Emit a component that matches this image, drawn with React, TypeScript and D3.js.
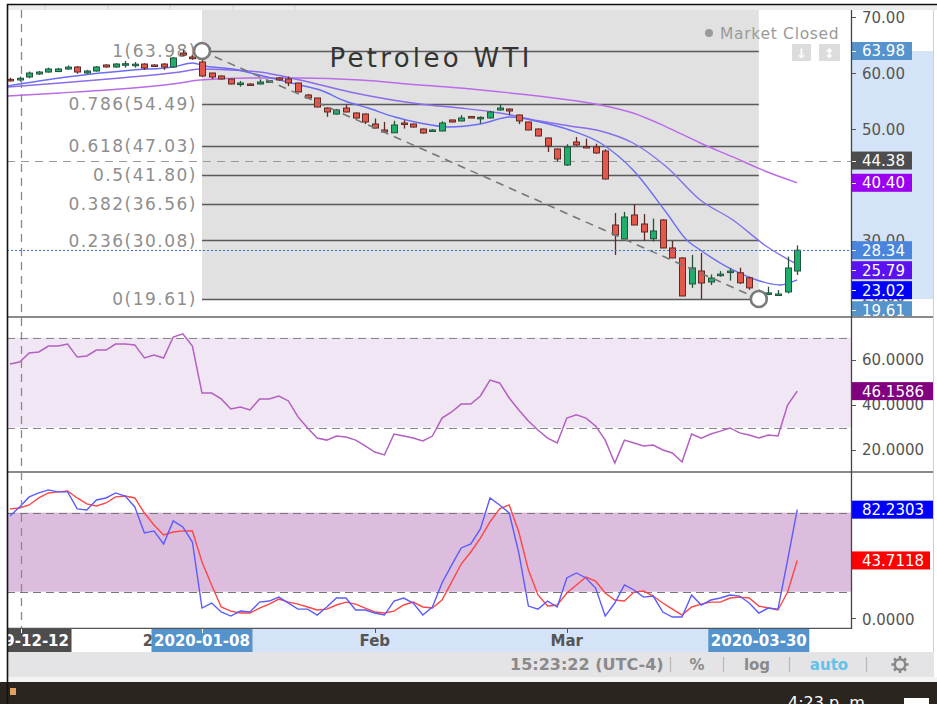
import React from "react";
import * as d3 from "d3";

// ---------------- DATA ----------------
const START_INDEX = -20; // candle index of first bar (0 = 2020-01-08)

const candleOpen = [
  58.9, 58.8, 59.33, 59.87, 60.22, 60.3, 60.76, 61.12, 60.04, 60.4, 61.48, 61.12, 61.6, 61.55, 61.65, 61.48, 61.65, 61.12, 63.62, 62.9,
  62.01, 60.04, 59.51, 58.97, 58.1, 58.08, 58.08, 58.6, 59.15, 58.97, 58.26, 56.11, 55.57, 53.78, 52.7, 53.78, 52.89, 52.71, 50.92, 49.85,
  49.35, 51.1, 50.92, 50.03, 49.67, 49.67, 51.64, 51.46, 52.25, 52.0, 52.0, 53.43, 53.6, 52.53, 51.28, 50.03, 48.42, 46.45, 43.59, 47.7,
  46.9, 46.81, 46.09, 32.85, 30.35, 34.64, 33.03, 30.4, 33.75, 28.74, 26.95, 22.3, 24.62, 22.65, 23.85, 24.4, 24.3, 23.4, 20.9, 20.55,
  20.4, 20.87, 24.62,
];
const candleHigh = [
  59.2, 59.4, 60.3, 60.4, 61.0, 60.95, 61.4, 61.3, 60.6, 61.3, 61.6, 61.8, 62.2, 62.0, 61.8, 61.6, 61.8, 62.9, 64.16, 63.2,
  63.98, 60.1, 59.6, 59.0, 58.6, 58.2, 58.9, 58.8, 59.3, 59.4, 58.3, 56.3, 55.6, 53.9, 53.6, 54.4, 53.0, 52.8, 51.9, 51.3,
  51.5, 51.6, 51.0, 50.1, 50.0, 51.4, 51.7, 52.5, 52.3, 52.3, 53.3, 54.5, 53.7, 52.6, 51.3, 50.1, 48.5, 46.5, 47.3, 48.6,
  48.3, 47.4, 46.4, 35.0, 35.2, 36.6, 34.8, 34.0, 33.9, 30.0, 27.1, 27.5, 27.85, 24.0, 24.6, 25.1, 25.2, 23.6, 21.3, 21.8,
  21.2, 27.2, 29.2,
];
const candleLow = [
  58.5, 58.5, 59.1, 59.7, 60.1, 60.2, 60.6, 59.9, 59.9, 60.3, 61.0, 61.0, 61.0, 61.0, 60.6, 61.2, 60.6, 61.0, 63.1, 62.4,
  59.3, 58.97, 58.9, 58.0, 57.6, 57.85, 58.0, 58.5, 58.7, 57.7, 56.6, 55.4, 53.9, 52.2, 52.6, 53.0, 51.9, 50.9, 50.1, 49.4,
  49.3, 50.1, 50.3, 49.2, 49.5, 49.6, 51.2, 51.4, 52.1, 51.0, 51.9, 53.3, 52.5, 50.9, 49.8, 48.7, 45.9, 44.2, 43.4, 47.0,
  46.6, 45.6, 41.0, 27.5, 30.2, 32.8, 30.0, 29.9, 28.7, 26.9, 20.1, 21.6, 19.6, 22.1, 23.6, 22.9, 22.3, 21.25, 19.61, 20.3,
  20.3, 20.6, 23.9,
];
const candleClose = [
  58.75, 59.1, 60.04, 60.22, 60.76, 60.76, 61.1, 60.22, 60.4, 61.12, 61.12, 61.65, 61.7, 61.62, 60.94, 61.3, 61.12, 62.73, 63.26, 62.6,
  59.51, 59.33, 58.97, 58.08, 58.25, 57.95, 58.43, 58.65, 58.8, 58.26, 56.65, 55.57, 53.96, 53.07, 53.43, 53.07, 51.99, 51.28, 50.2, 49.5,
  50.74, 50.92, 50.38, 49.31, 49.85, 51.1, 51.28, 51.99, 52.15, 52.1, 53.07, 53.78, 53.25, 51.46, 49.85, 48.77, 46.99, 44.66, 46.8, 47.17,
  46.75, 45.73, 41.08, 31.06, 34.28, 32.85, 31.6, 31.78, 28.74, 26.95, 20.15, 25.16, 22.47, 23.36, 24.05, 24.6, 22.5, 21.6, 20.3, 20.7,
  20.5, 25.16, 28.34,
];

// moving averages: points (bar index, price)
const maFastIdx = [-20.3, -14.1, -7.2, -3.0, -1.0, 0.3, 3.2, 6.8, 10.2, 12.3, 14.9, 17.3, 20.1, 22.7, 25.8, 29.0, 32.1, 35.2, 38.3, 41.5, 44.9, 48.4, 50.5, 51.9, 55.3, 58.1, 60.2, 62];
const maFastVal = [57.72, 59.33, 60.58, 61.12, 61.83, 61.3, 60.76, 59.33, 57.9, 57.0, 55.04, 53.78, 52.17, 51.1, 50.38, 50.92, 52.17, 51.28, 49.85, 47.52, 42.69, 35.0, 30.17, 28.38, 24.8, 22.83, 22.12, 23.02];
const maMidIdx = [-20.3, -14.8, -8.5, -2.3, -0.2, 2.9, 6.0, 10.2, 15.4, 22.7, 26.9, 31.0, 35.2, 38.3, 41.5, 44.9, 48.4, 51.9, 55.3, 58.9, 62];
const maMidVal = [57.54, 58.26, 59.15, 60.22, 60.76, 60.58, 60.22, 58.79, 56.65, 54.5, 53.78, 52.89, 51.46, 50.56, 49.67, 47.52, 43.23, 37.33, 33.75, 28.92, 25.79];
const maSlowIdx = [-20.3, -14.8, -8.5, -2.3, -0.2, 5.0, 10.2, 16.5, 22.7, 26.9, 33.1, 38.3, 41.5, 44.9, 48.4, 51.9, 55.3, 58.9, 62];
const maSlowVal = [55.93, 56.47, 57.18, 58.26, 58.79, 59.15, 59.15, 58.79, 57.9, 57.36, 56.29, 55.21, 54.32, 52.89, 50.38, 47.52, 45.02, 42.33, 40.4];

const rsiValues = [
  58.2, 59.1, 63.1, 63.6, 66.2, 66.2, 67.1, 61.3, 61.8, 64.4, 64.4, 67.1, 67.1, 66.7, 60.9, 62.2, 60.9, 70.2, 71.6, 66.2,
  45.3, 45.3, 42.7, 38.2, 39.1, 37.8, 42.7, 42.7, 44.0, 41.8, 34.7, 29.8, 25.3, 24.4, 26.2, 25.8, 24.4, 21.8, 19.1, 17.8,
  27.1, 26.2, 25.3, 24.0, 26.2, 34.2, 36.9, 40.4, 40.4, 44.0, 51.1, 49.8, 43.1, 37.8, 32.9, 28.9, 25.3, 23.1, 34.2, 35.6,
  34.2, 30.7, 24.4, 14.2, 24.4, 23.1, 21.8, 22.2, 20.0, 18.7, 14.7, 27.1, 25.3, 27.1, 28.4, 29.8, 27.6, 26.7, 25.3, 26.7,
  26.2, 40.0, 46.1586,
];
const stochK = [
  77.4, 84.3, 91.9, 94.9, 97.2, 95.7, 95.7, 82.8, 82.0, 89.6, 91.1, 94.9, 92.6, 84.3, 64.5, 66.1, 56.2, 73.7, 69.1, 57.7,
  7.6, 11.4, 4.6, 1.5, 5.3, 4.6, 12.1, 12.9, 15.9, 11.4, 6.8, 6.8, 2.3, 8.4, 15.2, 15.2, 6.1, 6.1, 3.8, 2.3,
  12.9, 15.2, 11.4, 2.3, 8.4, 26.6, 40.2, 53.2, 56.2, 67.6, 91.1, 85.8, 79.7, 49.4, 9.1, 6.8, 12.9, 8.4, 30.4, 34.2,
  30.4, 22.8, 1.5, 11.4, 25.1, 21.3, 15.9, 16.7, 4.6, 0.8, 0.8, 17.5, 9.9, 13.7, 15.2, 17.5, 16.7, 11.4, 3.8, 7.6,
  6.8, 44.0, 82.2303,
];
const stochD = [
  82.8, 83.5, 85.8, 91.1, 94.9, 95.7, 96.4, 91.1, 86.6, 85.0, 87.3, 91.9, 92.6, 91.1, 79.7, 70.6, 63.0, 65.3, 66.1, 66.1,
  42.5, 25.1, 8.4, 5.3, 3.8, 3.8, 7.6, 10.6, 14.4, 12.1, 10.6, 8.4, 6.1, 6.8, 9.9, 12.1, 10.6, 7.6, 4.6, 3.8,
  5.3, 9.9, 12.1, 8.4, 7.6, 13.7, 27.3, 41.0, 50.1, 60.7, 72.9, 82.8, 85.8, 65.3, 36.4, 17.5, 9.1, 9.9, 19.0, 25.1,
  31.1, 28.1, 19.0, 13.7, 12.9, 19.7, 20.5, 16.7, 11.4, 6.8, 2.3, 8.4, 10.6, 12.1, 12.1, 15.2, 15.9, 15.2, 9.1, 7.6,
  6.1, 19.7, 43.7118,
];

const fibRatios = [1, 0.786, 0.618, 0.5, 0.382, 0.236, 0];
const fibPrices = [63.98, 54.49, 47.03, 41.8, 36.56, 30.08, 19.61];
const fibStartIndex = 0;
const fibEndIndex = 58;

const priceTicks = [70, 60, 50, 40, 30, 20];
const priceLabels = [63.98, 44.38, 40.4, 28.34, 25.79, 23.02, 19.61];
const closedLevel = 44.38;
const lastPrice = 28.34;
const rsiTicks = [60, 40, 20];
const rsiBand = [70, 30];
const rsiLast = 46.1586;
const stochTicks = [0];
const stochBand = [80, 20];
const stochLastK = 82.2303;
const stochLastD = 43.7118;

const timeLabelIndex = [-19, -4, 18, 38, 0, 58];
const timeLabelText = ["2019-12-12", "2020", "Feb", "Mar", "2020-01-08", "2020-03-30"];

// ---------------- STYLES ----------------
const FONT = "'DejaVu Sans', Verdana, sans-serif";
const priceLabelColors = ["#5593cc", "#4d4d4d", "#9b00f0", "#4a85dd", "#5a12f2", "#0000ff", "#5593cc"];
const timeLabelStyle: Record<string, string | null> = {
  "2019-12-12": "#4d4d4d",
  "2020": null,
  Feb: null,
  Mar: null,
  "2020-01-08": "#5593cc",
  "2020-03-30": "#5593cc",
};

export default function App() {
  const x = d3.scaleLinear().domain([0, 62]).range([202, 202 + 62 * 9.6]);
  const yMain = d3.scaleLinear().domain([19.61, 63.98]).range([299, 51]);
  const yRsi = d3.scaleLinear().domain([20, 60]).range([450, 360]);
  const ySto = d3.scaleLinear().domain([20, 80]).range([591.7, 512.6]);

  const PL = 7, PR = 851, AX = 933;
  const mainTop = 10, mainBot = 317, rsiTop = 318, rsiBot = 472, stoTop = 473, stoBot = 628;

  const idx = (k: number) => k + START_INDEX;
  const snap = (v: number) => Math.round(v) + 0.5;

  const maLine = (ix: number[], vals: number[]) =>
    d3.line<number>().x((_, k) => x(ix[k])).y((v) => yMain(v)).curve(d3.curveMonotoneX)(vals) || "";

  const seriesLine = (vals: number[], ys: d3.ScaleLinear<number, number>) =>
    d3.line<number>().x((_, k) => x(idx(k))).y((v) => ys(v))(vals) || "";

  // de-overlap price labels
  const labelYs: number[] = [];
  priceLabels.forEach((v, k) => {
    let y = yMain(v);
    if (k > 0 && y < labelYs[k - 1] + 20) y = labelYs[k - 1] + 20;
    labelYs.push(y);
  });

  const fx0 = x(fibStartIndex), fx1 = x(fibEndIndex);
  const markX = 21;

  return (
    <svg width={937} height={704} style={{ position: "fixed", left: 0, top: 0, background: "#fff" }} fontFamily={FONT}>
      <defs>
        <clipPath id="cMain"><rect x={PL + 1} y={mainTop} width={PR - PL - 1} height={mainBot - mainTop - 1} /></clipPath>
        <clipPath id="cRsi"><rect x={PL + 1} y={rsiTop + 1} width={PR - PL - 1} height={rsiBot - rsiTop - 2} /></clipPath>
        <clipPath id="cSto"><rect x={PL + 1} y={stoTop} width={PR - PL - 1} height={stoBot - stoTop} /></clipPath>
        <clipPath id="cAxMain"><rect x={PR} y={mainTop} width={AX - PR} height={mainBot - mainTop - 0.5} /></clipPath>
        <clipPath id="cTime"><rect x={PL + 1} y={stoBot} width={AX - PL} height={24} /></clipPath>
      </defs>

      {/* header strip */}
      <rect x={PL} y={4} width={937 - PL} height={6} fill="#ececec" />
      {[45, 108, 170, 233, 295].map((sx) => (
        <line key={sx} x1={sx} x2={sx} y1={5} y2={10} stroke="#d6d6d6" />
      ))}
      <line x1={PL} x2={937} y1={4.5} y2={4.5} stroke="#111" strokeWidth={1.5} />

      {/* ---------- MAIN PANE ---------- */}
      <g clipPath="url(#cMain)">
        <rect x={PL} y={mainTop} width={PR - PL} height={mainBot - mainTop} fill="#fff" />
        <rect x={fx0} y={mainTop} width={fx1 - fx0} height={yMain(fibPrices[6]) - mainTop} fill="#e1e1e1" />
        {fibPrices.map((p, k) => (
          <g key={k}>
            <line x1={fx0} x2={fx1} y1={snap(yMain(p))} y2={snap(yMain(p))} stroke="#5a5a5a" strokeWidth={1.3} />
            <text x={197} y={yMain(p)} dy="0.36em" textAnchor="end" fontSize={17} letterSpacing={1.5} fill="#8e8e8e">
              {`${fibRatios[k]}(${p.toFixed(2)})`}
            </text>
          </g>
        ))}
        <line x1={PL} x2={PR} y1={snap(yMain(closedLevel))} y2={snap(yMain(closedLevel))} stroke="#9a9a9a" strokeWidth={1.2} strokeDasharray="8 6" />
        <text x={431} y={67} textAnchor="middle" fontSize={26} letterSpacing={3.3} fill="#333">Petroleo WTI</text>

        <circle cx={709} cy={33} r={4} fill="#9a9a9a" />
        <text x={720} y={38.5} fontSize={15.5} letterSpacing={0.7} fill="#9a9a9a">Market Closed</text>
        <rect x={792} y={44} width={19} height={17} fill="#dcdcdc" />
        <text x={801.5} y={57.5} textAnchor="middle" fontSize={13} fill="#fff" fontWeight="bold">↓</text>
        <rect x={819} y={44} width={21} height={17} fill="#dcdcdc" />
        <text x={829.5} y={57.5} textAnchor="middle" fontSize={13} fill="#fff" fontWeight="bold">↕</text>

        <path d={maLine(maSlowIdx, maSlowVal)} fill="none" stroke="#bb6be9" strokeWidth={1.4} />
        <path d={maLine(maMidIdx, maMidVal)} fill="none" stroke="#8a6cec" strokeWidth={1.4} />
        <path d={maLine(maFastIdx, maFastVal)} fill="none" stroke="#6a6cf6" strokeWidth={1.4} />

        {candleOpen.map((o, k) => {
          const c = candleClose[k];
          const up = c >= o;
          const cx = Math.round(x(idx(k))) + 0.5;
          const yT = yMain(Math.max(o, c));
          const yB = yMain(Math.min(o, c));
          const edge = up ? "#24523a" : "#5f2a25";
          return (
            <g key={k}>
              <line x1={cx} x2={cx} y1={yMain(candleHigh[k])} y2={yMain(candleLow[k])} stroke={edge} strokeWidth={1.3} />
              <rect x={cx - 3} y={yT} width={6} height={Math.max(1.5, yB - yT)} fill={up ? "#1fae6c" : "#e4574b"} stroke={edge} strokeWidth={1} />
            </g>
          );
        })}

        <line x1={fx0} y1={yMain(fibPrices[0])} x2={fx1} y2={yMain(fibPrices[6])} stroke="#777" strokeWidth={1.6} strokeDasharray="8 6" />
        <line x1={PL} x2={PR} y1={snap(yMain(lastPrice))} y2={snap(yMain(lastPrice))} stroke="#3f6fd8" strokeWidth={1.1} strokeDasharray="2 2" />
        <circle cx={fx0} cy={yMain(fibPrices[0])} r={8} fill="#fff" stroke="#7a7a7a" strokeWidth={2.6} />
        <circle cx={fx1} cy={yMain(fibPrices[6])} r={8} fill="#fff" stroke="#7a7a7a" strokeWidth={2.6} />
      </g>

      {/* main price axis */}
      <g clipPath="url(#cAxMain)">
        <rect x={PR} y={yMain(fibPrices[0])} width={AX - PR} height={yMain(fibPrices[6]) - yMain(fibPrices[0])} fill="#d4e3f7" />
        {priceTicks.map((t) => (
          <g key={t}>
            <line x1={PR} x2={PR + 5} y1={snap(yMain(t))} y2={snap(yMain(t))} stroke="#555" />
            <text x={862} y={yMain(t)} dy="0.36em" fontSize={15} fill="#555">{t.toFixed(2)}</text>
          </g>
        ))}
        {priceLabels.map((v, k) => (
          <g key={k}>
            <rect x={PR} y={labelYs[k] - 9} width={61} height={18} fill={priceLabelColors[k]} />
            <line x1={PR} x2={PR + 5} y1={snap(labelYs[k])} y2={snap(labelYs[k])} stroke="#fff" />
            <text x={862} y={labelYs[k]} dy="0.36em" fontSize={15} fill="#fff">{v.toFixed(2)}</text>
          </g>
        ))}
      </g>

      {/* ---------- RSI PANE ---------- */}
      <g clipPath="url(#cRsi)">
        <rect x={PL} y={yRsi(rsiBand[0])} width={PR - PL} height={yRsi(rsiBand[1]) - yRsi(rsiBand[0])} fill="#f1e6f3" />
        {rsiBand.map((b) => (
          <line key={b} x1={PL} x2={PR} y1={snap(yRsi(b))} y2={snap(yRsi(b))} stroke="#888" strokeWidth={1.2} strokeDasharray="8 5" />
        ))}
        <path d={seriesLine(rsiValues, yRsi)} fill="none" stroke="#b45fc2" strokeWidth={1.5} />
      </g>
      {rsiTicks.map((t) => (
        <g key={t}>
          <line x1={PR} x2={PR + 5} y1={snap(yRsi(t))} y2={snap(yRsi(t))} stroke="#555" />
          <text x={862} y={yRsi(t)} dy="0.36em" fontSize={15} fill="#555">{t.toFixed(4)}</text>
        </g>
      ))}
      <rect x={PR} y={yRsi(rsiLast) - 9} width={AX - PR} height={18} fill="#800080" />
      <text x={862} y={yRsi(rsiLast)} dy="0.36em" fontSize={15} fill="#fff">{rsiLast.toFixed(4)}</text>

      {/* ---------- STOCH PANE ---------- */}
      <g clipPath="url(#cSto)">
        <rect x={PL} y={ySto(stochBand[0])} width={PR - PL} height={ySto(stochBand[1]) - ySto(stochBand[0])} fill="#dcbddd" />
        {stochBand.map((b) => (
          <line key={b} x1={PL} x2={PR} y1={snap(ySto(b))} y2={snap(ySto(b))} stroke="#777" strokeWidth={1.2} strokeDasharray="8 5" />
        ))}
        <path d={seriesLine(stochD, ySto)} fill="none" stroke="#ff4545" strokeWidth={1.4} />
        <path d={seriesLine(stochK, ySto)} fill="none" stroke="#5b5bff" strokeWidth={1.4} />
      </g>
      {stochTicks.map((t) => (
        <g key={t}>
          <line x1={PR} x2={PR + 5} y1={snap(ySto(t))} y2={snap(ySto(t))} stroke="#555" />
          <text x={862} y={ySto(t) + 2} dy="0.36em" fontSize={15} fill="#555">{t.toFixed(4)}</text>
        </g>
      ))}
      <rect x={PR} y={ySto(stochLastK) - 9} width={AX - PR} height={18} fill="#0000ff" />
      <text x={862} y={ySto(stochLastK)} dy="0.36em" fontSize={15} fill="#fff">{stochLastK.toFixed(4)}</text>
      <rect x={PR} y={ySto(stochLastD) - 9} width={AX - PR - 3} height={18} fill="#ff0000" />
      <text x={862} y={ySto(stochLastD)} dy="0.36em" fontSize={15} fill="#fff">{stochLastD.toFixed(4)}</text>

      {/* pane separators & borders */}
      <line x1={PL} x2={AX} y1={mainBot} y2={mainBot} stroke="#8a8a8a" strokeWidth={2} />
      <line x1={PL} x2={AX} y1={rsiBot} y2={rsiBot} stroke="#8a8a8a" strokeWidth={2} />
      <line x1={PL} x2={PR} y1={stoBot + 0.5} y2={stoBot + 0.5} stroke="#555" strokeWidth={1.5} />
      <line x1={PR + 0.5} x2={PR + 0.5} y1={mainTop} y2={stoBot + 1} stroke="#444" strokeWidth={1.3} />
      <line x1={AX + 0.5} x2={AX + 0.5} y1={mainTop} y2={677} stroke="#d0d0d0" strokeWidth={1} />
      <line x1={markX + 0.5} x2={markX + 0.5} y1={mainTop} y2={stoBot} stroke="#8a8a8a" strokeWidth={1.3} strokeDasharray="8 6" />

      {/* ---------- TIME AXIS ---------- */}
      <g clipPath="url(#cTime)">
        <rect x={PL} y={stoBot + 1} width={AX - PL} height={23} fill="#fff" />
        <rect x={x(fibStartIndex)} y={stoBot + 1} width={x(fibEndIndex) - x(fibStartIndex)} height={23} fill="#d4e3f7" />
        {timeLabelText.map((t, k) => {
          const bg = timeLabelStyle[t];
          const lx = k === 0 ? markX : x(timeLabelIndex[k]);
          return (
            <g key={t}>
              {bg && <rect x={lx - 50.5} y={stoBot + 1} width={101} height={23} fill={bg} />}
              <line x1={Math.round(lx) + 0.5} x2={Math.round(lx) + 0.5} y1={stoBot + 1} y2={stoBot + 5} stroke={bg ? "#fff" : "#555"} />
              <text x={lx} y={stoBot + 18} textAnchor="middle" fontSize={15} fontWeight="bold" fill={bg ? "#fff" : "#555"}>{t}</text>
            </g>
          );
        })}
      </g>

      {/* bottom toolbar */}
      <rect x={PL} y={652} width={AX - PL + 1} height={25} fill="#e4e4e6" />
      <text x={510} y={670} fontSize={16} fill="#8a8a8a" fontWeight="bold">15:23:22 (UTC-4)</text>
      {[670.5, 723.5, 789.5, 866.5].map((sx) => (
        <line key={sx} x1={sx} x2={sx} y1={657} y2={672} stroke="#b9b9b9" strokeWidth={1.2} />
      ))}
      <text x={697} y={670} textAnchor="middle" fontSize={15} fill="#8a8a8a" fontWeight="bold">%</text>
      <text x={757} y={670} textAnchor="middle" fontSize={15} fill="#8a8a8a" fontWeight="bold">log</text>
      <text x={829} y={670} textAnchor="middle" fontSize={15} fill="#62c3ea" fontWeight="bold">auto</text>
      <g transform="translate(900,664.5)">
        {d3.range(8).map((k) => {
          const a = (k * Math.PI) / 4;
          return <line key={k} x1={Math.cos(a) * 5} y1={Math.sin(a) * 5} x2={Math.cos(a) * 8.5} y2={Math.sin(a) * 8.5} stroke="#888" strokeWidth={2.6} />;
        })}
        <circle r={5.2} fill="#e4e4e6" stroke="#888" strokeWidth={2.4} />
      </g>
      <rect x={PL} y={677} width={937 - PL} height={5} fill="#f4f4f4" />

      {/* taskbar */}
      <rect x={0} y={682} width={937} height={22} fill="#2b2520" />
      <text x={788} y={708} fontSize={16} fill="#fff">4:23 p. m.</text>
      <rect x={904} y={698} width={25} height={6} fill="#fff" />
      <rect x={10} y={688} width={6} height={7} fill="#e0a060" />

      {/* left border */}
      <line x1={PL + 0.5} x2={PL + 0.5} y1={4} y2={704} stroke="#111" strokeWidth={1.6} />
    </svg>
  );
}
